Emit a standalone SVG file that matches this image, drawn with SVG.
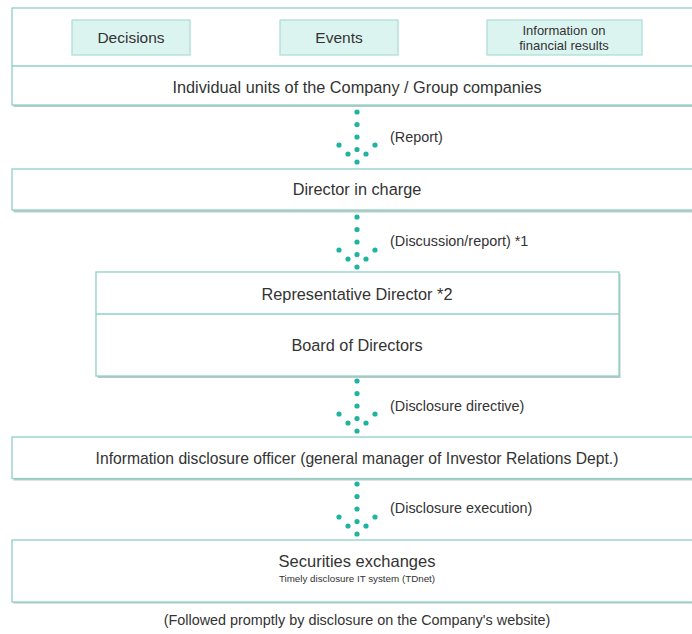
<svg xmlns="http://www.w3.org/2000/svg" width="692" height="634" viewBox="0 0 692 634">
<style>
.box{fill:#fff;stroke:#8fd0c7;stroke-width:1.3}
.sh{fill:#b9c9c6}
.sub{fill:#dcf4f0;stroke:#a9ddd5;stroke-width:1.2}
.div{stroke:#8fd0c7;stroke-width:1.3}
text{font-family:"Liberation Sans",Arial,sans-serif;fill:#333;text-anchor:middle}
.t{font-size:16.3px}
.s{font-size:13px}
.lab{font-size:14.4px;text-anchor:start}
.dot{fill:#1fb3a0}
</style>
<defs>
<g id="arrow">
<circle class="dot" cx="0" cy="0" r="2.6"/>
<circle class="dot" cx="0" cy="12.5" r="2.6"/>
<circle class="dot" cx="0" cy="25" r="2.6"/>
<circle class="dot" cx="0" cy="37.5" r="2.6"/>
<circle class="dot" cx="0" cy="50" r="2.6"/>
<circle class="dot" cx="-18" cy="33" r="2.6"/>
<circle class="dot" cx="-9" cy="42" r="2.6"/>
<circle class="dot" cx="9" cy="42" r="2.6"/>
<circle class="dot" cx="18" cy="33" r="2.6"/>
</g>
</defs>

<g id="units">
<rect class="sh" x="13.5" y="9.5" width="690" height="97.5"/>
<rect class="box" x="12" y="8" width="690" height="97"/>
<line class="div" x1="12" y1="66" x2="702" y2="66"/>
<text class="t" x="357" y="93">Individual units of the Company / Group companies</text>
</g>
<g id="decisions">
<rect class="sub" x="72" y="20" width="118" height="35"/>
<text x="131" y="43" style="font-size:15.5px">Decisions</text>
</g>
<g id="events">
<rect class="sub" x="280" y="20" width="118" height="35"/>
<text x="339" y="43" style="font-size:15.5px">Events</text>
</g>
<g id="financial">
<rect class="sub" x="487" y="20" width="155" height="35"/>
<text class="s" x="564" y="34.5">Information on</text>
<text class="s" x="564" y="49.5">financial results</text>
</g>

<g id="director">
<rect class="sh" x="13.5" y="170.5" width="690" height="42"/>
<rect class="box" x="12" y="169" width="690" height="41"/>
<text class="t" x="357" y="195">Director in charge</text>
</g>

<g id="board">
<rect class="sh" x="97.5" y="273.5" width="523" height="104.5"/>
<rect class="box" x="96" y="272" width="523" height="104"/>
<line class="div" x1="96" y1="314" x2="619" y2="314"/>
<text class="t" x="357" y="300">Representative Director *2</text>
<text class="t" x="357" y="351">Board of Directors</text>
</g>

<g id="officer">
<rect class="sh" x="13.5" y="438.5" width="690" height="42"/>
<rect class="box" x="12" y="437" width="690" height="41.5"/>
<text x="357" y="463.5" style="font-size:15.7px">Information disclosure officer (general manager of Investor Relations Dept.)</text>
</g>

<g id="exchanges">
<rect class="sh" x="13.5" y="541.5" width="690" height="62"/>
<rect class="box" x="12" y="540" width="690" height="62"/>
<text x="357" y="566.5" style="font-size:16.5px">Securities exchanges</text>
<text x="357" y="582" style="font-size:9.8px">Timely disclosure IT system (TDnet)</text>
</g>

<g id="connectors">
<use href="#arrow" x="357" y="112"/>
<text class="lab" x="390" y="142">(Report)</text>
<use href="#arrow" x="357" y="217"/>
<text class="lab" x="390" y="246">(Discussion/report) *1</text>
<use href="#arrow" x="357" y="381"/>
<text class="lab" x="390" y="411">(Disclosure directive)</text>
<use href="#arrow" x="357" y="484"/>
<text class="lab" x="390" y="513">(Disclosure execution)</text>
</g>

<text x="357" y="625" style="font-size:14.4px">(Followed promptly by disclosure on the Company's website)</text>
</svg>
